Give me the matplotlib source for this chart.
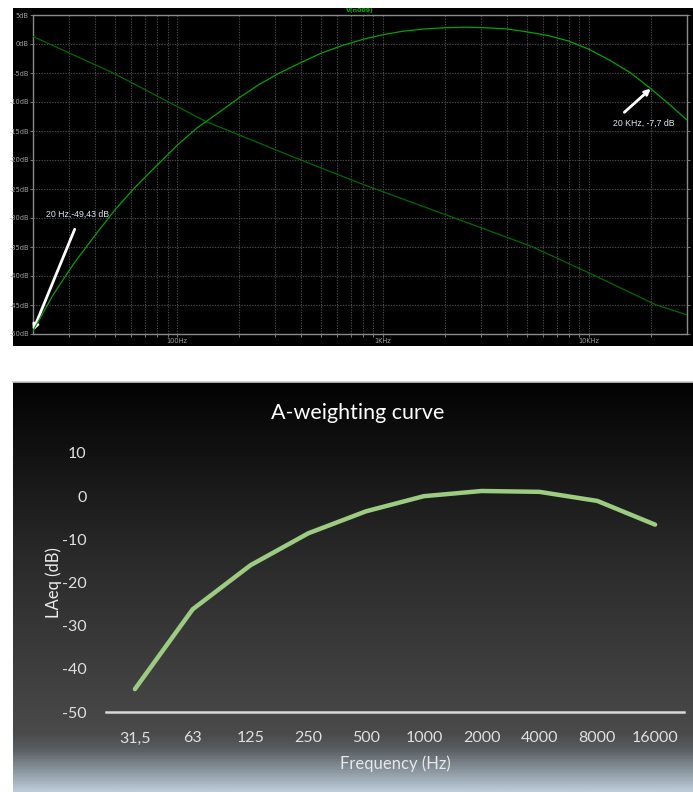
import numpy as np
import matplotlib
matplotlib.use('Agg')
import matplotlib.pyplot as plt
from matplotlib.patches import Rectangle
from matplotlib.colors import LinearSegmentedColormap

# ---------------- data ----------------
# Top (simulator) chart: magnitude response of the A-weighting network
sim_freq_hz = [20, 25, 31.5, 40, 50, 63, 80, 100, 125, 160, 200, 250, 315, 400, 500,
               630, 800, 1000, 1250, 1600, 2000, 2500, 3150, 4000, 5000, 6300, 8000,
               10000, 12500, 16000, 20000, 25000, 30000]
sim_mag_db = [-49.43, -43.3, -37.9, -33.0, -28.6, -24.6, -20.9, -17.5, -14.5, -11.8,
              -9.3, -7.0, -5.0, -3.2, -1.6, -0.3, 0.8, 1.6, 2.2, 2.6, 2.8, 2.9, 2.8,
              2.6, 2.1, 1.5, 0.5, -0.9, -2.7, -5.0, -7.7, -10.6, -13.1]
# second (darker) trace
sim2_freq_hz = [20, 49, 137, 381, 773, 2115, 5272, 10500, 21300, 30000]
sim2_db = [1.3, -5.0, -13.3, -19.7, -24.0, -29.7, -34.9, -39.8, -45.0, -46.7]
sim_yticks = [5, 0, -5, -10, -15, -20, -25, -30, -35, -40, -45, -50]
sim_xticks = [100, 1000, 10000]
sim_xticklabels = ['100Hz', '1KHz', '10KHz']
sim_title = 'V(n009)'
ann_low = (20, -49.43, '20 Hz,-49,43 dB')
ann_high = (20000, -7.7, '20 KHz, -7,7 dB')

# Bottom chart: A-weighting per octave band
octave_labels = ['31,5', '63', '125', '250', '500', '1000', '2000', '4000', '8000', '16000']
laeq_db = [-44.7, -26.2, -16.0, -8.6, -3.5, 0.0, 1.2, 1.0, -1.1, -6.6]
laeq_yticks = [10, 0, -10, -20, -30, -40, -50]

W, H = 693, 792
fig = plt.figure(figsize=(W / 100, H / 100), dpi=100, facecolor='white')

def fx(px):
    return px / W

def fy(py):
    return 1 - py / H

# ---------------- top panel ----------------
fig.add_artist(Rectangle((fx(13), fy(346)), fx(680), 338 / H,
                         transform=fig.transFigure, facecolor='black',
                         edgecolor='none', zorder=0))

ax1 = fig.add_axes([fx(33), fy(334), fx(654), 319 / H])
ax1.set_facecolor('black')
ax1.set_xscale('log')
ax1.set_xlim(20, 30000)
ax1.set_ylim(-50, 5)

grid_c = '#4a4a4a'
for v in sim_yticks:
    ax1.axhline(v, color=grid_c, lw=0.8, ls=(0, (1.2, 1.2)), zorder=1)
minor_x = [m * 10 ** d for d in range(1, 5) for m in range(1, 10)]
minor_x = [v for v in minor_x if 20 < v < 30000]
for v in minor_x:
    ax1.axvline(v, color=grid_c, lw=0.8, ls=(0, (1.2, 1.2)), zorder=1)

ax1.plot(sim2_freq_hz, sim2_db, color='#006a00', lw=0.9, zorder=3)
ax1.plot(sim_freq_hz, sim_mag_db, color='#00a400', lw=0.9, zorder=4)

for sp in ax1.spines.values():
    sp.set_color('#8a8a8a')
    sp.set_linewidth(1.0)

ax1.set_yticks(sim_yticks)
ax1.set_yticklabels([f'{v}dB' for v in sim_yticks])
ax1.set_xticks(sim_xticks)
ax1.set_xticklabels(sim_xticklabels)
ax1.xaxis.set_minor_locator(matplotlib.ticker.FixedLocator(minor_x))
ax1.xaxis.set_minor_formatter(matplotlib.ticker.NullFormatter())
ax1.tick_params(axis='both', which='both', colors='#8a8a8a', labelcolor='#a0a0a0',
                labelsize=4.8, length=2, width=0.6, pad=1)
ax1.tick_params(axis='y', right=True)
ax1.text(0.5, 1.005, sim_title, transform=ax1.transAxes, ha='center', va='bottom',
         color='#00b000', fontsize=4.5, fontweight='bold')

# annotations
ax1.annotate('', xy=(ann_low[0], ann_low[1]), xytext=(30, 73), textcoords='offset points',
             arrowprops=dict(arrowstyle='->', color='white', lw=2.0,
                             shrinkA=0, shrinkB=0, mutation_scale=8))
ax1.annotate(ann_low[2], xy=(ann_low[0], ann_low[1]), xytext=(9, 84), textcoords='offset points',
             ha='left', va='center', color='#dfe8f4', fontsize=6.3,
             family='Liberation Sans')
ax1.annotate('', xy=(ann_high[0], ann_high[1]), xytext=(-19, -17), textcoords='offset points',
             arrowprops=dict(arrowstyle='->', color='white', lw=2.0,
                             shrinkA=0, shrinkB=0, mutation_scale=8))
ax1.annotate(ann_high[2], xy=(ann_high[0], ann_high[1]), xytext=(-5, -25), textcoords='offset points',
             ha='center', va='center', color='#dfe8f4', fontsize=6.3,
             family='Liberation Sans')

# ---------------- bottom panel ----------------
bg = fig.add_axes([fx(13), 0, fx(680), (H - 382) / H])
bg.set_axis_off()
stops = [(0.0, '#030303'), (0.17, '#121212'), (0.43, '#2a2a2a'), (0.78, '#444444'),
         (0.86, '#4a4a4a'), (0.90, '#5b5f63'), (0.95, '#8a959e'), (1.0, '#bccbd8')]
cmap = LinearSegmentedColormap.from_list('bgg', stops)
grad = np.linspace(0, 1, 400).reshape(-1, 1)
bg.imshow(grad, aspect='auto', cmap=cmap, extent=[0, 1, 0, 1], origin='upper')
bg.set_xlim(0, 1)
bg.set_ylim(0, 1)
fig.add_artist(plt.Line2D([fx(13), 1], [fy(382), fy(382)], transform=fig.transFigure,
                          color='#c8c8c8', lw=1.2))

font_c = 'Lato'
ax2 = fig.add_axes([fx(106), fy(712), fx(578), 259 / H])
ax2.patch.set_alpha(0)
x = np.arange(len(octave_labels))
ax2.plot(x, laeq_db, color='#9ccc82', lw=3.2, solid_capstyle='round', solid_joinstyle='round')
ax2.set_xlim(-0.5, len(octave_labels) - 0.5)
ax2.set_ylim(-50, 10)
ax2.set_xticks(x)
ax2.set_xticklabels(octave_labels)
ax2.set_yticks(laeq_yticks)
ax2.set_yticklabels([str(v) for v in laeq_yticks])
for name in ['top', 'right', 'left']:
    ax2.spines[name].set_visible(False)
ax2.spines['bottom'].set_color('#d9d9d9')
ax2.spines['bottom'].set_linewidth(1.8)
ax2.tick_params(axis='both', length=0, labelcolor='#e0e0e0', labelsize=11.5)
ax2.tick_params(axis='x', pad=14)
ax2.tick_params(axis='y', pad=14)
for lab in ax2.get_xticklabels() + ax2.get_yticklabels():
    lab.set_family(font_c)
ax2.set_xlabel('Frequency (Hz)', color='#e8e8e8', fontsize=12, family=font_c, labelpad=7)
ax2.set_ylabel('LAeq (dB)', color='#ececec', fontsize=12, family=font_c, labelpad=0)
fig.text(fx(358), fy(413), 'A-weighting curve', ha='center', va='center',
         color='white', fontsize=15.5, family=font_c)

fig.savefig('out.png', dpi=100, facecolor='white')
